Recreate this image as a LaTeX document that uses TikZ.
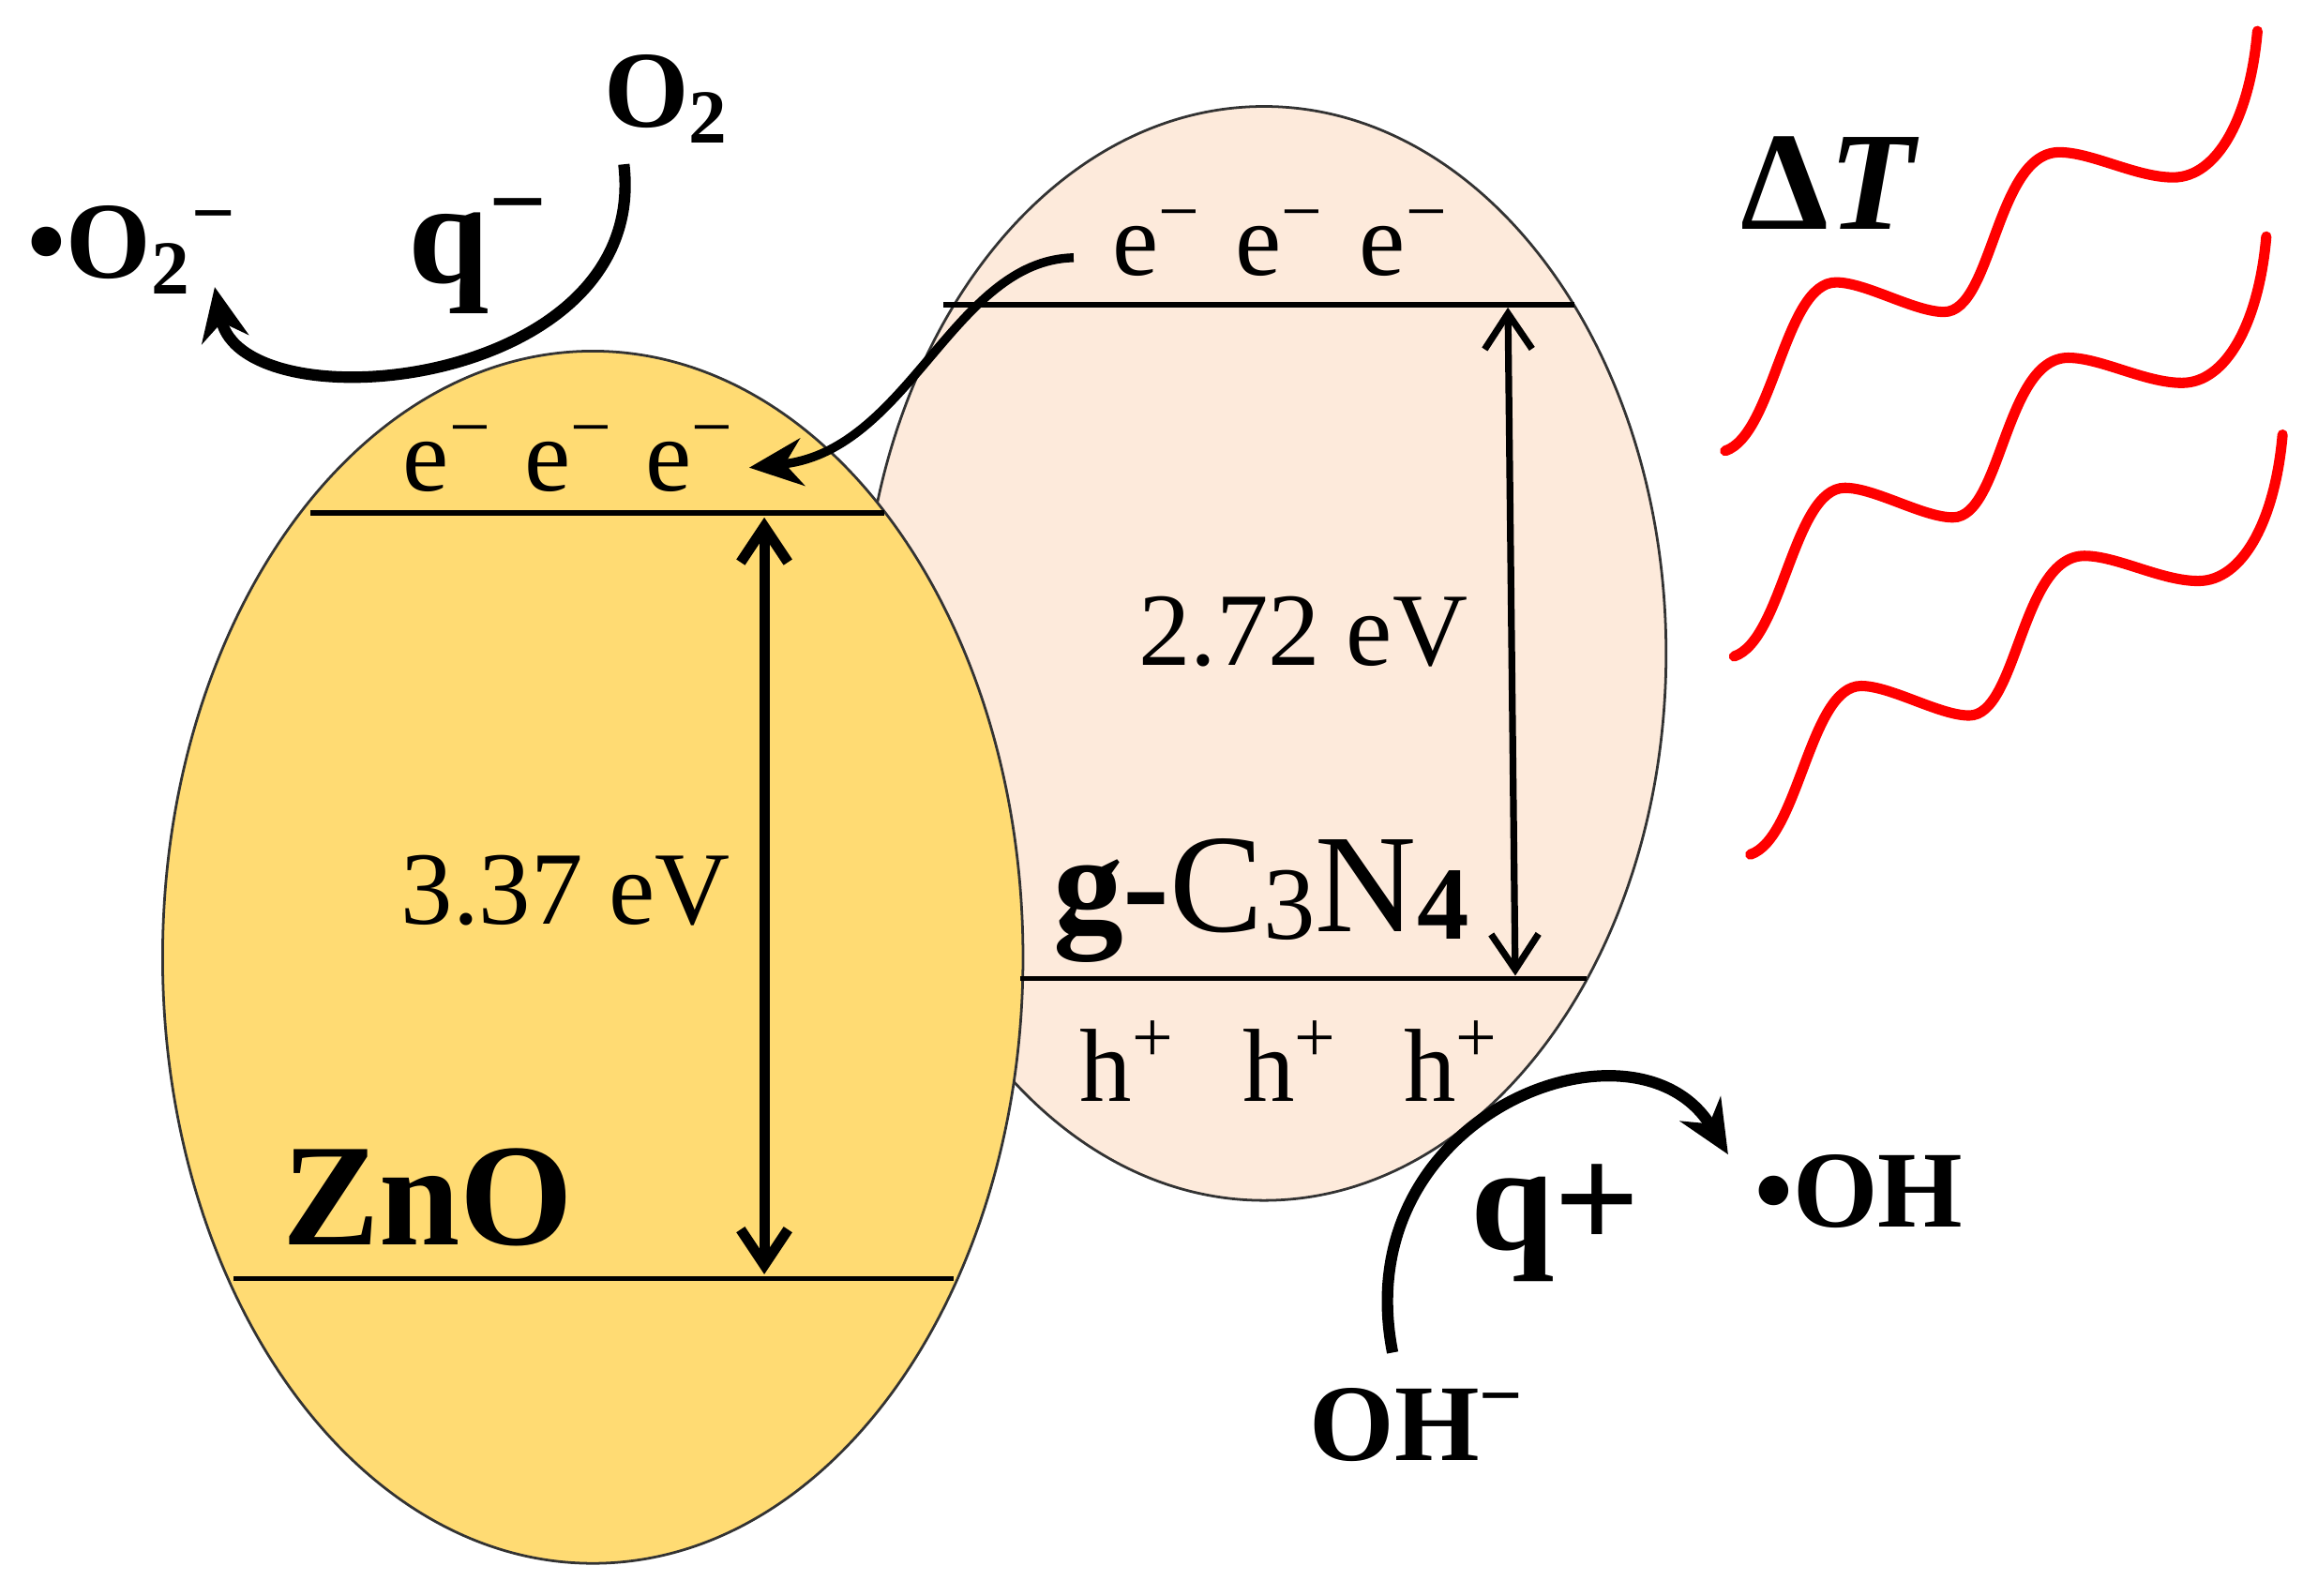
\documentclass[tikz,border=0pt]{standalone}
\usepackage{fontspec}
\setmainfont{Liberation Serif}
\usetikzlibrary{shapes.geometric,arrows.meta}

\definecolor{znofill}{HTML}{FFDB73}
\definecolor{gcnfill}{HTML}{FDEADB}

\newcommand{\sz}[1]{\fontsize{#1}{#1}\selectfont}
\newcommand{\lowsub}[1]{\raisebox{-1.5pt}{\sz{20}#1}}

\tikzset{
  blob/.style={ellipse, draw=black!80, line width=0.5pt, inner sep=0pt},
  band/.style={line width=1pt},
  gap/.style={line width=2pt, {Straight Barb[length=2.4mm,width=3.2mm]}-{Straight Barb[length=2.4mm,width=3.2mm]}},
  flow/.style={line width=2.2pt, -{Stealth[length=3.6mm,width=3.2mm]}},
  carrier/.style={font=\sz{20}, anchor=base},
  species/.style={font=\sz{21}\bfseries, anchor=base, inner sep=1pt},
  wave/.style={red, line width=2pt, line cap=round},
}

\begin{document}
\begin{tikzpicture}
  \useasboundingbox (0,0) rectangle (15.68,10.79);

  % the two particles
  \node[blob, fill=gcnfill, minimum width=5.44cm, minimum height=7.40cm] (gcn) at (8.55,6.37) {};
  \node[blob, fill=znofill, minimum width=5.82cm, minimum height=8.20cm] (zno) at (4.01,4.315) {};

  % band edges
  \draw[band] (2.10,7.32) -- (5.98,7.32);
  \draw[band] (1.58,2.14) -- (6.45,2.14);
  \draw[band] (6.38,8.73) -- (10.65,8.73);
  \draw[band] (6.90,4.17) -- (10.73,4.17);

  \coordinate (zcb) at (5.17,7.29);
  \coordinate (zvb) at (5.17,2.17);
  \coordinate (gcb) at (10.20,8.71);
  \coordinate (gvb) at (10.25,4.19);
  \draw[gap] (zcb) -- (zvb);
  \draw[gap, line width=1.3pt] (gcb) -- (gvb);

  % carriers
  \foreach \x [count=\i] in {3.03,3.85,4.67}
    \node[carrier] (ze\i) at (\x,7.47) {e\textsuperscript{−}};
  \foreach \x [count=\i] in {7.83,8.66,9.50}
    \node[carrier] (ge\i) at (\x,8.93) {e\textsuperscript{−}};
  \foreach \x [count=\i] in {7.63,8.73,9.82}
    \node[carrier] (h\i) at (\x,3.34) {h\textsuperscript{+}};

  % labels
  \node[carrier] (zgap) at (3.825,4.54) {3.37 eV};
  \node[carrier] (ggap) at (8.815,6.29) {2.72 eV};
  \node[species, font=\sz{28}\bfseries] (znolbl) at (2.895,2.37) {ZnO};
  \node[species, font=\sz{27}] (gcnlbl) at (8.53,4.49) {\textbf{g-}C\lowsub{3}N\lowsub{\bfseries 4}};

  \node[species] (o2) at (4.51,9.93) {O\textsubscript{2}};
  \node[species] (o2rad) at (0.90,8.91) {\textbullet O\textsubscript{2}\textsuperscript{−}};
  \node[species, font=\sz{28}\bfseries] (qm) at (3.24,8.88) {q\textsuperscript{−}};
  \node[species, font=\sz{29}\bfseries] (qp) at (10.52,2.34) {q+};
  \node[species] (oh) at (12.575,2.49) {\textbullet OH};
  \node[species] (ohm) at (9.59,0.91) {OH\textsuperscript{−}};
  \node[species, font=\sz{27}\bfseries] (dT) at (12.38,9.24) {Δ\textit{T}};

  % charge transfer
  \draw[flow, line width=1.7pt] ([shift={(-0.14,-0.1)}]ge1.west) .. controls (6.45,9.03) and (6.15,7.74) .. ([shift={(-0.03,-0.06)}]ze3.east);
  \draw[flow] ([shift={(-0.29,-0.1)}]o2.south) .. controls +(0.18,-1.52) and +(0.19,-0.95) .. ([shift={(-0.20,0.09)}]o2rad.south east);
  \draw[flow] ([shift={(-0.17,0.2)}]ohm.north) .. controls +(-0.32,1.62) and +(-0.62,1.02) .. ([shift={(-0.14,-0.04)}]oh.north west);

  % heat
  \foreach \dx/\dy in {0/0, 0.06/-1.39, 0.17/-2.73}
    \draw[wave, shift={(\dx,\dy)}] (11.67,7.74) .. controls (12.00,7.85) and (12.07,8.88) .. (12.42,8.88)
      .. controls (12.62,8.88) and (12.95,8.68) .. (13.15,8.68)
      .. controls (13.48,8.68) and (13.50,9.76) .. (13.93,9.76)
      .. controls (14.15,9.76) and (14.45,9.59) .. (14.70,9.59)
      .. controls (15.00,9.59) and (15.22,10.00) .. (15.27,10.58);
\end{tikzpicture}
\end{document}
